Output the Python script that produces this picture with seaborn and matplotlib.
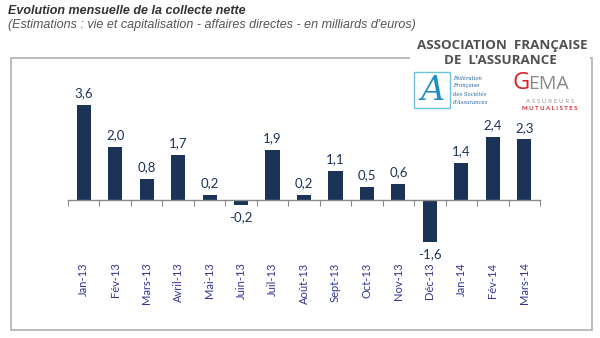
import matplotlib
matplotlib.use("Agg")
import matplotlib.pyplot as plt
import matplotlib.patches as mpatches
from matplotlib.ticker import FixedLocator
import seaborn as sns
import pandas as pd

months = ["Jan-13", "Fév-13", "Mars-13", "Avril-13", "Mai-13", "Juin-13", "Juil-13",
          "Août-13", "Sept-13", "Oct-13", "Nov-13", "Déc-13", "Jan-14", "Fév-14", "Mars-14"]
values = [3.6, 2.0, 0.8, 1.7, 0.2, -0.2, 1.9, 0.2, 1.1, 0.5, 0.6, -1.6, 1.4, 2.4, 2.3]

title = "Evolution mensuelle de la collecte nette"
subtitle = "(Estimations : vie et capitalisation - affaires directes - en milliards d'euros)"

sns.set_theme(style="white")
plt.rcParams["font.family"] = ["Lato", "DejaVu Sans"]

W, H = 600, 338
fig = plt.figure(figsize=(6, 3.38), dpi=100)
fig.patch.set_facecolor("white")

# chart frame
frame = mpatches.Rectangle((11 / W, 1 - 330 / H), 581 / W, 272 / H, transform=fig.transFigure,
                           fill=False, edgecolor="#b0b0b0", linewidth=1.2)
fig.add_artist(frame)

ax = fig.add_axes([68 / W, 1 - 255 / H, 472 / W, 175 / H])
df = pd.DataFrame({"mois": months, "val": values})
sns.barplot(data=df, x="mois", y="val", color="#1c3358", width=0.45, ax=ax,
            saturation=1, edgecolor="#1c3358", linewidth=0)
ax.set_xlim(-0.5, len(months) - 0.5)
ax.set_ylim(-(255 - 200) / 26.4, (200 - 80) / 26.4)
ax.set_facecolor("none")
for s in ["top", "right", "left"]:
    ax.spines[s].set_visible(False)
ax.spines["bottom"].set_position(("data", 0))
ax.spines["bottom"].set_color("#8a8a8a")
ax.spines["bottom"].set_linewidth(1.0)
ax.set_yticks([])
ax.set_xlabel("")
ax.set_ylabel("")
ax.xaxis.set_minor_locator(FixedLocator([i - 0.5 for i in range(len(months) + 1)]))
ax.tick_params(axis="x", which="minor", bottom=True, length=4, width=0.8, color="#8a8a8a", direction="out")
ax.tick_params(axis="x", which="major", length=0, pad=45)
ax.set_xticks(range(len(months)))
ax.set_xticklabels(months, rotation=90, fontsize=8, color="#33339a")

labels = [f"{v:.1f}".replace(".", ",") for v in values]
ax.bar_label(ax.containers[0], labels=labels, padding=4, fontsize=9.5, color="#1c3358")

# titles
fig.text(8 / W, 1 - 11 / H, title, fontsize=9, fontweight="bold", fontstyle="italic",
         color="#333333", va="center", ha="left", family=["Liberation Sans", "DejaVu Sans"])
fig.text(8 / W, 1 - 25 / H, subtitle, fontsize=9, fontstyle="italic",
         color="#555555", va="center", ha="left", family=["Liberation Sans", "DejaVu Sans"])

# logo area
logo_bg = mpatches.Rectangle((410 / W, 1 - 116 / H), 180 / W, 78 / H, transform=fig.transFigure,
                             facecolor="white", edgecolor="none", zorder=3)
fig.add_artist(logo_bg)
fig.text(502 / W, 1 - 46 / H, "ASSOCIATION  FRANÇAISE", fontsize=9.6, fontweight="bold",
         color="#505050", ha="center", va="center", zorder=4, family=["Open Sans", "DejaVu Sans"])
fig.text(500 / W, 1 - 60 / H, "DE  L'ASSURANCE", fontsize=9.6, fontweight="bold",
         color="#505050", ha="center", va="center", zorder=4, family=["Open Sans", "DejaVu Sans"])
aframe = mpatches.Rectangle((414 / W, 1 - 108 / H), 36 / W, 36 / H, transform=fig.transFigure,
                            fill=False, edgecolor="#6cc3e0", linewidth=1.0, zorder=4)
fig.add_artist(aframe)
fig.text(433 / W, 1 - 91 / H, "A", fontsize=24, fontstyle="italic", color="#1d8fc4",
         ha="center", va="center", zorder=5, family=["DejaVu Serif"])
for i, t in enumerate(["Fédération", "Française", "des Sociétés", "d'Assurances"]):
    fig.text(453 / W, 1 - (78 + i * 8) / H, t, fontsize=3.8, fontstyle="italic", color="#1d5fa0",
             ha="left", va="center", zorder=5, family=["DejaVu Serif"])
fig.text(512 / W, 1 - 83 / H, "G", fontsize=17, color="#d8232a", ha="left", va="center",
         zorder=5, family=["Open Sans", "DejaVu Sans"])
fig.text(528 / W, 1 - 84 / H, "EMA", fontsize=14, color="#8a8a8a", ha="left", va="center",
         zorder=5, family=["Open Sans", "DejaVu Sans"])
fig.text(550 / W, 1 - 101 / H, "A S S U R E U R S", fontsize=4.5, color="#999999", ha="center",
         va="center", zorder=5)
fig.text(550 / W, 1 - 108 / H, "M U T U A L I S T E S", fontsize=4.3, fontweight="bold",
         color="#d8232a", ha="center", va="center", zorder=5)

fig.savefig("out.png", dpi=100, facecolor="white")
